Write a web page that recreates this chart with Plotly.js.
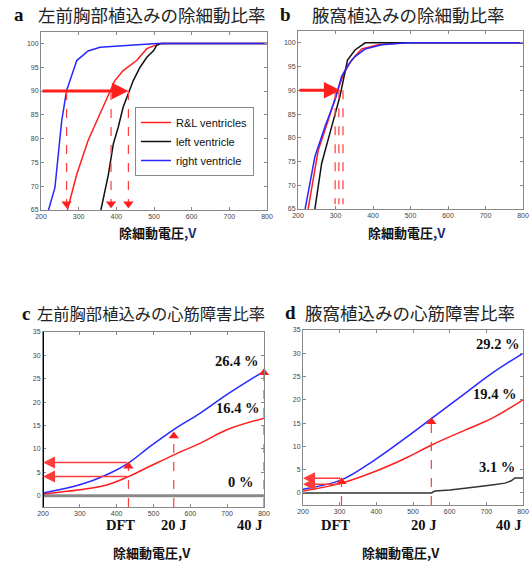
<!DOCTYPE html>
<html>
<head>
<meta charset="utf-8">
<script src="https://cdn.plot.ly/plotly-3.0.1.min.js"></script>
<style>html,body{margin:0;padding:0;background:#fff;}#chart{width:531px;height:561px;}</style>
</head>
<body>
<div id="chart"></div>
<script>
// ---------- data ----------
// panel a (left anterior chest implant, defibrillation rate)
const aRLX = [270, 295, 325, 357, 383, 396, 418, 454, 481, 505, 516, 800];
const aRLY = [65, 72.5, 79.6, 85.2, 90.1, 92.2, 94.3, 96.4, 98.9, 99.6, 100, 100];
const aLX = [359, 379, 392, 405, 418, 432, 445, 463, 481, 499, 507, 520, 800];
const aLY = [65, 72.5, 78.9, 82.4, 86.6, 89.4, 92.2, 95, 97.1, 98.5, 99.6, 100, 100];
const aRX = [220, 237, 255, 268, 295, 325, 357, 445, 507, 800];
const aRY = [65, 69.7, 83.8, 90.1, 96.4, 98.4, 99.2, 99.7, 100, 100];
const aDropX = [268, 386, 432];
const aArrowTipX = 432;
// panel b (axillary implant, defibrillation rate)
const bRLX = [227, 254, 281, 303, 321, 343, 370, 414, 485, 800];
const bRLY = [65, 77.4, 83.8, 89.4, 93.3, 96.4, 98.7, 99.6, 100, 100];
const bLX = [245, 263, 290, 312, 321, 332, 352, 379, 800];
const bLY = [65, 74.6, 82.4, 88.8, 92.2, 96.4, 98.5, 100, 100];
const bRX = [219, 245, 272, 299, 316, 334, 352, 379, 423, 493, 800];
const bRY = [65, 76, 82.4, 88, 92.9, 95.4, 97.1, 98.7, 99.6, 100, 100];
const bDropX = [299, 309, 320];
const bArrowTipX = 313;
// panel c (left anterior chest implant, myocardial damage rate)
const cX = [200, 300, 373, 432, 490, 554, 626, 699, 800];
const cBlue = [0.6, 2.35, 4.5, 7.0, 10.5, 14.1, 17.6, 21.6, 26.6];
const cRed = [0.4, 1.3, 2.3, 4.1, 6.3, 8.7, 11.2, 14.1, 16.6];
const cGrayX = [200, 800];
const cGrayY = [0, 0];
const cUpX = [432, 555, 800];
const cUpY = [6.3, 12.8, 26.3];
const cLeftY = [7.1, 4.1];
const cLeftTailX = 432;
// panel d (axillary implant, myocardial damage rate)
const dX = [200, 305, 396, 478, 551, 642, 715, 800];
const dBlue = [0.8, 2.8, 7.1, 11.7, 16, 21.4, 25.7, 30];
const dRed = [0.4, 2.1, 4.6, 7.4, 10.3, 13.5, 16, 20];
const dBlackX = [200, 550, 560, 600, 642, 680, 715, 751, 768, 778, 800];
const dBlackY = [0, 0, 0.4, 0.6, 1.0, 1.3, 1.7, 2.1, 2.6, 3.2, 3.2];
const dUpX = [305, 550];
const dUpY = [2.4, 15.3];
const dLeftY = [3.15, 1.87];
const dLeftTailX = 305;
// labels
const seriesNames = ['R&L ventricles', 'left ventricle', 'right ventricle'];
const xTicks = [200, 300, 400, 500, 600, 700, 800];
const yTicksAB = [65, 70, 75, 80, 85, 90, 95, 100];
const yTicksCD = [0, 5, 10, 15, 20, 25, 30, 35];
const eventLabels = ['DFT', '20 J', '40 J'];

// ---------- styles ----------
const RED = 'rgb(255,30,30)';
const ARED = 'rgb(255,60,60)';
const BLUE = 'rgb(40,40,255)';
const BLACK = '#111';
const CJK = '"Noto Sans CJK JP", sans-serif';
const SERIF = '"Liberation Serif", "Times New Roman", serif';

const traces = [];
function line(x, y, xa, ya, color, name, show, w, shape) {
  traces.push({x: x, y: y, xaxis: xa, yaxis: ya, type: 'scatter', mode: 'lines',
    name: name, showlegend: !!show, line: {color: color, width: w || 1.5, shape: shape || 'linear'},
    hoverinfo: 'skip'});
}
// panel a
line(aRLX, aRLY, 'x', 'y', RED, seriesNames[0], true);
line(aLX, aLY, 'x', 'y', BLACK, seriesNames[1], true);
line(aRX, aRY, 'x', 'y', BLUE, seriesNames[2], true);
// panel b
line(bRLX, bRLY, 'x2', 'y2', RED, seriesNames[0]);
line(bLX, bLY, 'x2', 'y2', BLACK, seriesNames[1]);
line(bRX, bRY, 'x2', 'y2', BLUE, seriesNames[2]);
// panel c
line(cGrayX, cGrayY, 'x3', 'y3', '#8a8a8a', 'zero', false, 3);
line(cX, cRed, 'x3', 'y3', RED, 'red', false, 1.5, 'spline');
line(cX, cBlue, 'x3', 'y3', BLUE, 'blue', false, 1.5, 'spline');
// panel d
line(dBlackX, dBlackY, 'x4', 'y4', '#333', 'black', false, 1.5);
line(dX, dRed, 'x4', 'y4', RED, 'red', false, 1.5, 'spline');
line(dX, dBlue, 'x4', 'y4', BLUE, 'blue', false, 1.5, 'spline');

// dashed drop lines + heads
function drops(xs, y0, y1s, xa, ya, sym, headY, open) {
  xs.forEach((v, i) => {
    const yEnd = Array.isArray(y1s) ? y1s[i] : y1s;
    traces.push({x: [v, v], y: [y0, yEnd], xaxis: xa, yaxis: ya, type: 'scatter', mode: 'lines',
      showlegend: false, line: {color: ARED, width: 1.2, dash: 'dash'}, hoverinfo: 'skip', cliponaxis: false});
  });
  traces.push({x: xs, y: Array.isArray(headY) ? headY : xs.map(() => headY), xaxis: xa, yaxis: ya, type: 'scatter', mode: 'markers',
    showlegend: false, cliponaxis: false, hoverinfo: 'skip',
    marker: {symbol: sym, size: 9, color: open ? 'rgba(0,0,0,0)' : RED, line: {color: RED, width: open ? 1 : 0}}});
}
drops(aDropX, 90, 66, 'x', 'y', 'triangle-down', 66.3, false);
drops(bDropX, 90, 66, 'x2', 'y2', 'triangle-down-open', 66.3, true);
drops(cUpX, -2.4, cUpY, 'x3', 'y3', 'triangle-up', cUpY, false);
drops(dUpX, -2.6, dUpY, 'x4', 'y4', 'triangle-up', dUpY, false);

// ---------- layout ----------
function xax(domain, anchor) {
  return {domain: domain, anchor: anchor, range: [200, 800], tickvals: xTicks, ticks: 'inside', ticklen: 3,
    tickcolor: '#888', mirror: 'allticks', showline: true, linecolor: '#888', linewidth: 1, showgrid: false,
    zeroline: false, tickfont: {size: 7, color: '#444', family: '"Liberation Sans", Arial, sans-serif'}};
}
function yax(domain, anchor, range, tv) {
  return {domain: domain, anchor: anchor, range: range, tickvals: tv, ticks: 'inside', ticklen: 3,
    tickcolor: '#888', mirror: 'allticks', showline: true, linecolor: '#888', linewidth: 1, showgrid: false,
    zeroline: false, tickfont: {size: 7, color: '#444', family: '"Liberation Sans", Arial, sans-serif'}};
}

const ann = [];
function txt(text, x, y, size, family, xanchor, color) {
  ann.push({text: text, x: x / 531, y: 1 - y / 561, xref: 'paper', yref: 'paper', showarrow: false,
    xanchor: xanchor || 'center', yanchor: 'middle', font: {size: size, family: family, color: color || '#111'}});
}
// titles
txt('<b>a</b>', 19, 15, 19, SERIF);
txt('左前胸部植込みの除細動比率', 36, 15, 17.5, CJK, 'left', '#222');
txt('<b>b</b>', 285, 15, 19, SERIF);
txt('腋窩植込みの除細動比率', 310, 15, 17.5, CJK, 'left', '#222');
txt('<b>c</b>', 26, 313, 19, SERIF);
txt('左前胸部植込みの心筋障害比率', 35, 313, 16.3, CJK, 'left', '#222');
txt('<b>d</b>', 291, 312, 19, SERIF);
txt('腋窩植込みの心筋障害比率', 303, 312, 17.5, CJK, 'left', '#222');
// axis titles
const navyV = '<b>除細動電圧<span style="color:#1a2a7a">,V</span></b>';
txt(navyV, 158, 232, 13, CJK);
txt(navyV, 407, 232, 13, CJK);
txt('<b>除細動電圧,V</b>', 152, 552, 13, CJK);
txt('<b>除細動電圧,V</b>', 401, 552, 13, CJK);
// event labels
txt('<b>' + eventLabels[0] + '</b>', 120, 525, 14.5, SERIF);
txt('<b>' + eventLabels[1] + '</b>', 173, 525, 14.5, SERIF);
txt('<b>' + eventLabels[2] + '</b>', 250, 525, 14.5, SERIF);
txt('<b>' + eventLabels[0] + '</b>', 335, 525, 14.5, SERIF);
txt('<b>' + eventLabels[1] + '</b>', 423, 525, 14.5, SERIF);
txt('<b>' + eventLabels[2] + '</b>', 508, 525, 14.5, SERIF);
// percentage labels (data coords)
function pct(text, x, y, xa, ya) {
  ann.push({text: '<b>' + text + '</b>', x: x, y: y, xref: xa, yref: ya, showarrow: false,
    xanchor: 'center', yanchor: 'middle', font: {size: 14.5, family: SERIF, color: '#111'}});
}
pct('26.4 %', 728, 28.7, 'x3', 'y3');
pct('16.4 %', 730, 18.7, 'x3', 'y3');
pct('0 %', 735, 3.05, 'x3', 'y3');
pct('29.2 %', 733, 31.9, 'x4', 'y4');
pct('19.4 %', 724, 21.2, 'x4', 'y4');
pct('3.1 %', 728, 5.5, 'x4', 'y4');
// arrows
function arrow(x, y, ax, ay, xa, ya, w, color) {
  ann.push({text: '', x: x, y: y, ax: ax, ay: ay, xref: xa, yref: ya, axref: xa, ayref: ya,
    showarrow: true, arrowhead: 2, arrowsize: w > 2 ? 1.1 : 1.6, arrowwidth: w, arrowcolor: color});
}
arrow(aArrowTipX, 90, 200, 90, 'x', 'y', 3, RED);
arrow(bArrowTipX, 90, 200, 90, 'x2', 'y2', 3, RED);
cLeftY.forEach(v => arrow(200, v, cLeftTailX, v, 'x3', 'y3', 1.5, ARED));
dLeftY.forEach(v => arrow(200, v, dLeftTailX, v, 'x4', 'y4', 1.5, ARED));

const layout = {
  width: 531, height: 561, margin: {l: 0, r: 0, t: 0, b: 0},
  paper_bgcolor: '#fff', plot_bgcolor: '#fff',
  xaxis: xax([41 / 531, 267 / 531], 'y'),
  yaxis: yax([1 - 210 / 561, 1 - 32 / 561], 'x', [65, 102.4], yTicksAB),
  xaxis2: xax([298 / 531, 523 / 531], 'y2'),
  yaxis2: yax([1 - 209 / 561, 1 - 31 / 561], 'x2', [65, 102.5], yTicksAB),
  xaxis3: xax([43 / 531, 264 / 531], 'y3'),
  yaxis3: yax([1 - 507 / 561, 1 - 332 / 561], 'x3', [-2.4, 35], yTicksCD),
  xaxis4: xax([303 / 531, 523 / 531], 'y4'),
  yaxis4: yax([1 - 505 / 561, 1 - 330 / 561], 'x4', [-2.6, 35], yTicksCD),
  showlegend: true,
  legend: {x: 135 / 531, y: 1 - 107 / 561, xanchor: 'left', yanchor: 'top', bgcolor: '#fff',
    bordercolor: '#888', borderwidth: 1, font: {size: 11, family: '"Liberation Sans", Arial, sans-serif', color: '#111'},
    tracegroupgap: 0, itemwidth: 30},
  annotations: ann,
  shapes: [{type: 'line', xref: 'x3', yref: 'y3 domain', x0: 200, x1: 200, y0: 0, y1: 1,
    line: {color: '#000', width: 2}}]
};
Plotly.newPlot('chart', traces, layout, {displayModeBar: false, staticPlot: true});
</script>
</body>
</html>
